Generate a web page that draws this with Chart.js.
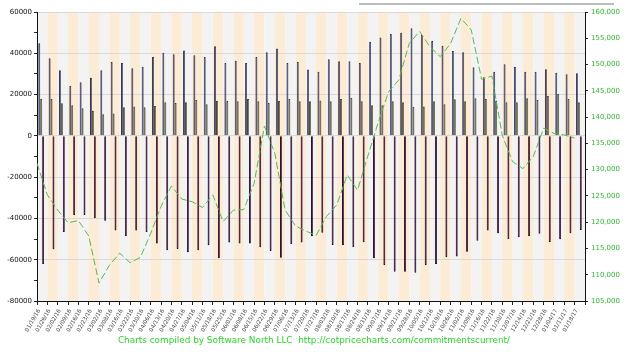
<!DOCTYPE html>
<html><head><meta charset="utf-8">
<script src="https://cdn.jsdelivr.net/npm/chart.js@4.4.1/dist/chart.umd.min.js"></script>
<style>
html,body{margin:0;padding:0;background:#fff;}
#wrap{position:relative;width:628px;height:352px;overflow:hidden;}
#topline{position:absolute;left:359px;top:3px;width:255px;height:2px;background:#bdbdbd;}
#credit{position:absolute;left:0;width:628px;top:335px;text-align:center;font-family:"DejaVu Sans",Verdana,sans-serif;font-size:8.9px;line-height:10px;color:#2ad42a;white-space:pre;}
</style></head><body>
<div id="wrap"><canvas id="c" width="628" height="352"></canvas><div id="topline"></div><div id="credit">Charts compiled by Software North LLC  http://cotpricecharts.com/commitmentscurrent/</div></div>
<script>
const dates = ["01/19/16","01/26/16","02/02/16","02/09/16","02/16/16","02/23/16","03/02/16","03/08/16","03/16/16","03/22/16","03/30/16","04/06/16","04/13/16","04/20/16","04/27/16","05/04/16","05/11/16","05/18/16","05/25/16","06/01/16","06/08/16","06/15/16","06/22/16","06/29/16","07/06/16","07/13/16","07/20/16","07/27/16","08/03/16","08/10/16","08/17/16","08/24/16","08/31/16","09/07/16","09/14/16","09/21/16","09/28/16","10/05/16","10/12/16","10/19/16","10/26/16","11/02/16","11/09/16","11/16/16","11/22/16","11/30/16","12/07/16","12/14/16","12/21/16","12/28/16","01/04/17","01/11/17","01/18/17"];
const blueLong = [44900,37600,31800,24200,26000,28200,31800,35800,35300,32800,33500,38200,40200,39500,41300,39000,38200,43400,35300,36400,35300,38200,40500,42300,35300,35800,32100,31000,37100,36100,36100,35300,45600,47700,49400,50000,52100,48900,46000,43700,41100,40500,33200,28400,31000,34700,33500,31000,31000,32300,30600,29800,30300];
const yellowLong = [17900,17900,15800,14800,13400,12200,10500,10800,13900,14200,13900,14500,16300,15900,16300,17400,15300,16900,16900,16800,17900,16800,15900,16900,17900,16800,16800,17100,16800,17900,18500,16800,14800,14800,16800,16300,14000,14200,16800,15300,17700,16800,18200,17900,17100,16300,16300,18200,17400,19300,20300,17900,16300];
const purpleShort = [-62100,-54900,-46600,-38300,-38300,-39900,-41100,-45900,-48500,-45900,-46600,-52200,-55400,-54800,-56400,-55400,-53000,-59300,-51700,-52200,-52200,-54000,-55800,-59000,-52500,-51700,-48500,-46900,-52900,-52900,-54000,-51400,-59300,-62500,-65800,-65800,-66300,-62500,-62100,-58800,-58500,-56200,-50800,-45900,-47200,-50100,-49100,-48500,-47400,-51400,-50100,-47200,-45600];
const openInterest = [131200,125200,122300,119900,120300,117400,108400,111800,114100,112300,113300,117900,123000,126900,124400,123900,122800,125200,120100,122300,122400,127400,138300,133100,122300,119300,118300,117500,121100,123300,129000,126100,132600,139000,144800,147100,154000,156300,153400,151500,154000,158800,156600,147200,147800,136500,131500,130200,132500,137900,136900,136600,136000];
const leftMin = -80000, leftMax = 60000, leftStep = 10000, leftLabelStep = 20000;
const rightMin = 105000, rightMax = 160000, rightStep = 5000;

const stripes = {
  id: 'stripes',
  beforeDraw(chart) {
    const {ctx, chartArea: a, scales: {x}} = chart;
    const w = x.width / dates.length;
    ctx.save();
    for (let i = 0; i < dates.length; i++) {
      const c = x.getPixelForValue(i);
      ctx.fillStyle = (i % 2 === 1) ? '#fcebd5' : '#f3f3f3';
      ctx.fillRect(c - w / 2, a.top, w, a.bottom - a.top);
    }
    ctx.restore();
  }
};

const barCommon = {type: 'bar', borderSkipped: false, order: 1, categoryPercentage: 1.12, barPercentage: 1.0};

new Chart(document.getElementById('c'), {
  data: {
    labels: dates,
    datasets: [
      {type: 'line', data: openInterest.map((v, i) => ({x: i, y: v})), xAxisID: 'x2', yAxisID: 'y2',
       borderColor: '#55bb55', borderWidth: 1, borderDash: [7, 3], pointRadius: 0, fill: false, tension: 0, order: 0},
      Object.assign({data: blueLong, backgroundColor: '#a9a9f0', borderColor: '#2c2c48',
                     borderWidth: {left: 1, top: 1, right: 0.8, bottom: 0}}, barCommon),
      Object.assign({data: yellowLong, backgroundColor: '#f5f2b6', borderColor: '#3c3c28',
                     borderWidth: {left: 1, top: 1, right: 0.8, bottom: 0}}, barCommon),
      Object.assign({data: purpleShort, backgroundColor: '#8e1c74', borderColor: '#24061e',
                     borderWidth: {left: 1, top: 0, right: 0.8, bottom: 1}}, barCommon)
    ]
  },
  options: {
    responsive: false, animation: false,
    layout: {padding: {top: 12, left: 0, right: 0, bottom: 0}},
    plugins: {legend: {display: false}, tooltip: {enabled: false}, title: {display: false}},
    scales: {
      x: {
        type: 'category', offset: true,
        grid: {display: true, drawOnChartArea: false, tickLength: 4, tickColor: '#222', offset: true},
        border: {display: true, color: '#111', width: 1},
        ticks: {autoSkip: false, minRotation: 60, maxRotation: 60, padding: 3, labelOffset: -3, color: '#4a4a4a',
                font: {family: 'DejaVu Sans', size: 5.6}},
        afterFit(s) { s.height = 51; }
      },
      x2: {type: 'linear', min: 0, max: dates.length, display: false},
      y: {
        position: 'left', min: leftMin, max: leftMax,
        ticks: {stepSize: leftStep, padding: 2, color: '#111', font: {family: 'DejaVu Sans', size: 7},
                callback: v => (v % leftLabelStep === 0) ? String(v) : ''},
        grid: {color: ctx => (ctx.tick && ctx.tick.value % leftLabelStep === 0) ? '#d9d9d9' : 'rgba(0,0,0,0)',
               tickColor: '#222', tickLength: 3},
        border: {display: true, color: '#111', width: 1},
        afterFit(s) { s.width = 37; }
      },
      y2: {
        position: 'right', min: rightMin, max: rightMax,
        ticks: {stepSize: rightStep, padding: 3, color: '#33b533', font: {family: 'DejaVu Sans', size: 7}},
        grid: {drawOnChartArea: false, tickColor: '#222', tickLength: 3},
        border: {display: true, color: '#111', width: 1},
        afterFit(s) { s.width = 43; }
      }
    }
  },
  plugins: [stripes]
});
</script>
</body></html>
